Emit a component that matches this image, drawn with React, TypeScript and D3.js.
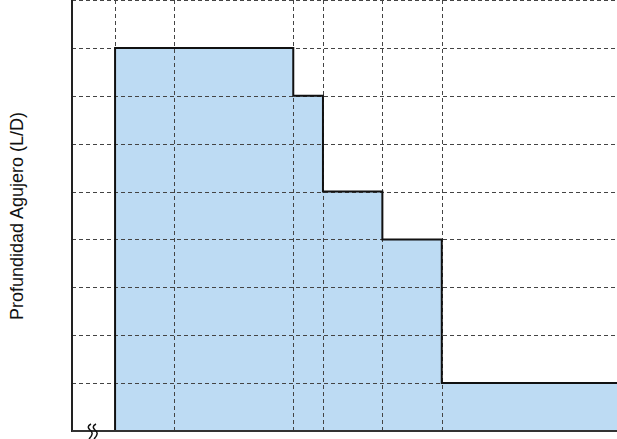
import { useEffect, useRef } from 'react';
import * as d3 from 'd3';

// step data: depth (L/D) held from each start until the next one
const stepStarts = [0, 6, 7, 9, 11, 17];
const stepDepths = [8, 7, 5, 4, 1, 1];
const xGrid = [0, 2, 6, 7, 9, 11];
const yGrid = [1, 2, 3, 4, 5, 6, 7, 8, 9];
const yLabel = 'Profundidad Agujero (L/D)';

export default function App() {
  const ref = useRef<SVGSVGElement>(null);

  useEffect(() => {
    if (!ref.current) return;
    const svg = d3.select(ref.current);
    svg.selectAll('*').remove();

    const width = 617;
    const height = 439;
    const left = 72;
    const bottom = 431;

    const x = d3.scaleLinear().domain([-1.45, 16.9]).range([left, width]);
    const y = d3.scaleLinear().domain([0, 9]).range([bottom, 0]);

    const pts = stepStarts.map((s, i) => ({ x: s, y: stepDepths[i] }));

    // filled area
    const area = d3
      .area<{ x: number; y: number }>()
      .x((d) => x(d.x))
      .y0(y(0))
      .y1((d) => y(d.y))
      .curve(d3.curveStepAfter);
    svg.append('path').datum(pts).attr('d', area).attr('fill', '#bddbf3');

    // grid
    const grid = svg.append('g').attr('stroke', '#444').attr('stroke-width', 1).attr('stroke-dasharray', '4,3');
    grid
      .selectAll('line.h')
      .data(yGrid)
      .enter()
      .append('line')
      .attr('class', 'h')
      .attr('x1', left)
      .attr('x2', width)
      .attr('y1', (d) => Math.round(y(d)) + 0.5)
      .attr('y2', (d) => Math.round(y(d)) + 0.5);
    grid
      .selectAll('line.v')
      .data(xGrid)
      .enter()
      .append('line')
      .attr('class', 'v')
      .attr('x1', (d) => Math.round(x(d)) + 0.5)
      .attr('x2', (d) => Math.round(x(d)) + 0.5)
      .attr('y1', 0)
      .attr('y2', bottom);

    // step outline
    const line = d3
      .line<{ x: number; y: number }>()
      .x((d) => x(d.x))
      .y((d) => y(d.y))
      .curve(d3.curveStepAfter);
    svg
      .append('path')
      .datum([{ x: stepStarts[0], y: 0 }, ...pts])
      .attr('d', line)
      .attr('fill', 'none')
      .attr('stroke', '#111')
      .attr('stroke-width', 2);

    // axes
    svg.append('line').attr('x1', left).attr('x2', left).attr('y1', 0).attr('y2', bottom + 1).attr('stroke', '#222').attr('stroke-width', 2);
    svg.append('line').attr('x1', left).attr('x2', width).attr('y1', bottom).attr('y2', bottom).attr('stroke', '#333').attr('stroke-width', 2);

    // axis break mark
    const brk = svg.append('g').attr('fill', 'none').attr('stroke', '#111').attr('stroke-width', 1.5);
    [90, 95].forEach((cx) => {
      brk
        .append('path')
        .attr('d', `M${cx + 1},424 C${cx - 3},426 ${cx - 2},428 ${cx},430 C${cx + 3},432 ${cx + 3},435 ${cx - 1},439`);
    });

    svg
      .append('text')
      .attr('transform', `translate(23,216) rotate(-90)`)
      .attr('text-anchor', 'middle')
      .attr('font-family', 'Liberation Sans, Arial, sans-serif')
      .attr('font-size', 18)
      .attr('fill', '#111')
      .text(yLabel);
  }, []);

  return (
    <svg
      ref={ref}
      width={617}
      height={439}
      style={{ position: 'absolute', left: 0, top: 0, background: '#fff' }}
    />
  );
}
